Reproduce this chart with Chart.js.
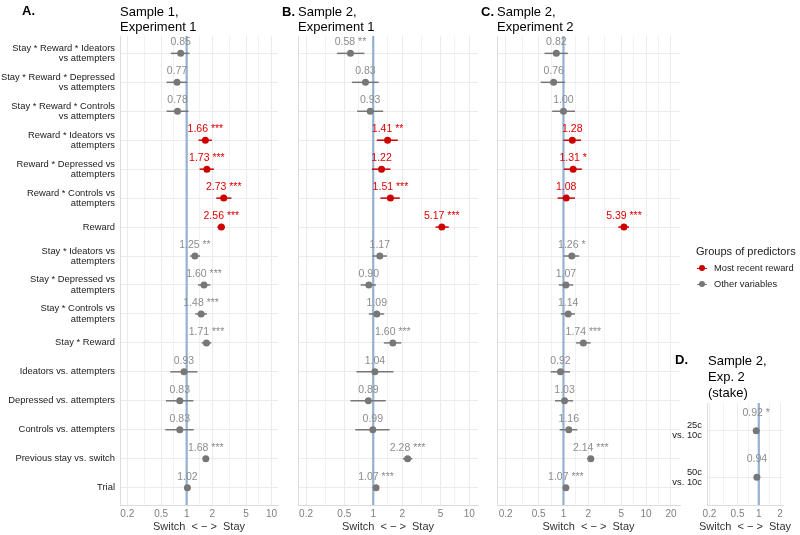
<!DOCTYPE html>
<html>
<head>
<meta charset="utf-8">
<script src="https://cdn.jsdelivr.net/npm/chart.js@4.4.1/dist/chart.umd.min.js"></script>
<style>
  body { margin: 0; background: #fff; font-family: "Liberation Sans", Arial, sans-serif; }
  #wrap { position: relative; width: 800px; height: 535px; overflow: hidden; }
  canvas { position: absolute; left: 0; top: 0; }
  .title { position: absolute; font-size: 13px; line-height: 15px; color: #000; white-space: nowrap; }
  .tag { position: absolute; font-size: 13px; line-height: 15px; font-weight: bold; color: #000; }
  .leg { position: absolute; white-space: nowrap; }
  .legTitle { font-size: 11px; color: #222; }
  .legItem { font-size: 9.3px; color: #222; line-height: 12px; }
  .sym { position: absolute; width: 10px; height: 1.5px; }
  .dot { position: absolute; width: 6px; height: 6px; border-radius: 3px; }
  .axTitle { position: absolute; font-size: 11px; line-height: 13px; color: #333; white-space: pre; text-align: center; }
</style>
</head>
<body>
<div id="wrap">
  <canvas id="panelA" width="800" height="535"></canvas>
  <canvas id="panelB" width="800" height="535"></canvas>
  <canvas id="panelC" width="800" height="535"></canvas>
  <canvas id="panelD" width="800" height="535"></canvas>

  <div class="tag" style="left:22px;top:3px;">A.</div>
  <div class="title" style="left:120px;top:4px;">Sample 1,<br>Experiment 1</div>
  <div class="tag" style="left:282px;top:4px;">B.</div>
  <div class="title" style="left:298px;top:4px;">Sample 2,<br>Experiment 1</div>
  <div class="tag" style="left:481px;top:4px;">C.</div>
  <div class="title" style="left:497px;top:4px;">Sample 2,<br>Experiment 2</div>
  <div class="tag" style="left:675px;top:352px;">D.</div>
  <div class="title" style="left:708px;top:353px;line-height:16px;">Sample 2,<br>Exp. 2<br>(stake)</div>
  <div class="axTitle" style="left:695px;width:100px;top:520px;">Switch  &lt; &minus; &gt;  Stay</div>

  <div class="leg legTitle" style="left:696px;top:245px;">Groups of predictors</div>
  <div class="sym" style="left:697px;top:267.5px;background:#cc0000;"></div>
  <div class="dot" style="left:699px;top:265px;background:#cc0000;"></div>
  <div class="leg legItem" style="left:714px;top:262px;">Most recent reward</div>
  <div class="sym" style="left:697px;top:283.5px;background:#777;"></div>
  <div class="dot" style="left:699px;top:281px;background:#777;"></div>
  <div class="leg legItem" style="left:714px;top:278px;">Other variables</div>
</div>

<script>
// predictors, top to bottom
const predictors = [
  ['Stay * Reward * Ideators', 'vs attempters'],
  ['Stay * Reward * Depressed', 'vs attempters'],
  ['Stay * Reward * Controls', 'vs attempters'],
  ['Reward * Ideators vs', 'attempters'],
  ['Reward * Depressed vs', 'attempters'],
  ['Reward * Controls vs', 'attempters'],
  'Reward',
  ['Stay * Ideators vs', 'attempters'],
  ['Stay * Depressed vs', 'attempters'],
  ['Stay * Controls vs', 'attempters'],
  'Stay * Reward',
  'Ideators vs. attempters',
  'Depressed vs. attempters',
  'Controls vs. attempters',
  'Previous stay vs. switch',
  'Trial'
];
const groups = ['other', 'other', 'other', 'reward', 'reward', 'reward', 'reward', 'other',
                'other', 'other', 'other', 'other', 'other', 'other', 'other', 'other'];

// Sample 1, Experiment 1 (odds ratios, 95% CI)
const s1e1Est = [0.85, 0.77, 0.78, 1.66, 1.73, 2.73, 2.56, 1.25, 1.60, 1.48, 1.71, 0.93, 0.83, 0.83, 1.68, 1.02];
const s1e1Lo  = [0.65, 0.58, 0.58, 1.38, 1.42, 2.23, 2.30, 1.10, 1.36, 1.26, 1.50, 0.64, 0.57, 0.56, 1.62, 1.01];
const s1e1Hi  = [1.08, 1.01, 1.05, 1.98, 2.09, 3.36, 2.82, 1.44, 1.90, 1.73, 1.95, 1.34, 1.20, 1.21, 1.74, 1.03];
const s1e1Sig = ['', '', '', '***', '***', '***', '***', '**', '***', '***', '***', '', '', '', '***', ''];

// Sample 2, Experiment 1
const s2e1Est = [0.58, 0.83, 0.93, 1.41, 1.22, 1.51, 5.17, 1.17, 0.90, 1.09, 1.60, 1.04, 0.89, 0.99, 2.28, 1.07];
const s2e1Lo  = [0.42, 0.60, 0.68, 1.09, 0.97, 1.19, 4.45, 0.98, 0.74, 0.90, 1.29, 0.67, 0.58, 0.65, 2.03, 1.05];
const s2e1Hi  = [0.81, 1.14, 1.27, 1.80, 1.51, 1.89, 6.10, 1.39, 1.07, 1.30, 1.96, 1.62, 1.35, 1.48, 2.55, 1.09];
const s2e1Sig = ['**', '', '', '**', '', '***', '***', '', '', '', '***', '', '', '', '***', '***'];

// Sample 2, Experiment 2
const s2e2Est = [0.82, 0.76, 1.00, 1.28, 1.31, 1.08, 5.39, 1.26, 1.07, 1.14, 1.74, 0.92, 1.03, 1.16, 2.14, 1.07];
const s2e2Lo  = [0.59, 0.53, 0.73, 1.00, 1.01, 0.85, 4.60, 1.01, 0.88, 0.93, 1.42, 0.70, 0.79, 0.90, 1.94, 1.05];
const s2e2Hi  = [1.13, 1.05, 1.38, 1.63, 1.67, 1.38, 6.20, 1.55, 1.31, 1.38, 2.13, 1.20, 1.31, 1.47, 2.35, 1.09];
const s2e2Sig = ['', '', '', '', '*', '', '***', '*', '', '', '***', '', '', '', '***', '***'];

// Sample 2, Exp. 2 (stake)
const stakeLabels = [['25c', 'vs. 10c'], ['50c', 'vs. 10c']];
const stakeGroups = ['other', 'other'];
const stakeEst = [0.92, 0.94];
const stakeLo  = [0.90, 0.92];
const stakeHi  = [0.94, 0.96];
const stakeSig = ['*', ''];

const mainTicks  = [0.2, 0.5, 1, 2, 5, 10];
const wideTicks  = [0.2, 0.5, 1, 2, 5, 10, 20];
const stakeTicks = [0.2, 0.5, 1, 2];

const FONT = '"Liberation Sans", Arial, sans-serif';
Chart.defaults.font.family = FONT;

const colPoint = { reward: '#cc0000', other: '#777777' };
const colText  = { reward: '#e00000', other: '#8c8c8c' };

function makePanel(id, d) {
  const n = d.est.length;
  // minor gridlines halfway (in log space) between major ticks
  const minor = [];
  const t = d.ticks;
  minor.push(t[0] / Math.sqrt(t[1] / t[0]));
  for (let i = 0; i < t.length - 1; i++) minor.push(Math.sqrt(t[i] * t[i + 1]));
  minor.push(t[t.length - 1] * Math.sqrt(t[t.length - 1] / t[t.length - 2]));
  const allTicks = t.concat(minor).filter(v => v >= d.xMin && v <= d.xMax).sort((a, b) => a - b);

  const datasets = [];
  // points
  datasets.push({
    data: d.est.map((v, i) => ({ x: v, y: i + 1 })),
    pointRadius: 3.5,
    pointBorderWidth: 0,
    pointBackgroundColor: d.grp.map(g => colPoint[g]),
    order: 0
  });
  // confidence intervals
  d.est.forEach((v, i) => {
    datasets.push({
      data: [{ x: d.lo[i], y: i + 1 }, { x: d.hi[i], y: i + 1 }],
      showLine: true,
      borderColor: colPoint[d.grp[i]],
      borderWidth: 1.5,
      pointRadius: 0,
      order: 1
    });
  });
  // reference line at 1
  datasets.push({
    data: [{ x: 1, y: 0.4 }, { x: 1, y: n + 0.6 }],
    showLine: true,
    borderColor: '#94b1d2',
    borderWidth: 2.2,
    pointRadius: 0,
    order: 2
  });

  const labelPlugin = {
    id: 'valueLabels',
    afterDatasetsDraw(chart) {
      const ctx = chart.ctx, xs = chart.scales.x, ys = chart.scales.y;
      ctx.save();
      ctx.font = '10.5px ' + FONT;
      ctx.textAlign = 'center';
      ctx.textBaseline = 'middle';
      d.est.forEach((v, i) => {
        const txt = v.toFixed(2) + (d.sig[i] ? ' ' + d.sig[i] : '');
        ctx.fillStyle = colText[d.grp[i]];
        ctx.fillText(txt, xs.getPixelForValue(v), ys.getPixelForValue(i + 1 - 0.38));
      });
      ctx.restore();
    }
  };

  new Chart(document.getElementById(id), {
    type: 'scatter',
    data: { datasets },
    plugins: [labelPlugin],
    options: {
      responsive: false,
      animation: false,
      events: [],
      layout: {
        padding: {
          left: d.area.left - d.yWidth,
          right: 800 - d.area.right,
          top: d.area.top,
          bottom: 535 - d.area.bottom - 30
        }
      },
      plugins: { legend: { display: false }, tooltip: { enabled: false } },
      scales: {
        x: {
          type: 'logarithmic',
          min: d.xMin,
          max: d.xMax,
          bounds: 'data',
          afterBuildTicks: s => { s.ticks = allTicks.map(v => ({ value: v })); },
          afterFit: s => { s.height = 30; },
          ticks: {
            autoSkip: false,
            maxRotation: 0,
            callback: v => (t.includes(v) ? String(v) : ''),
            font: { size: 10 },
            color: '#7f7f7f',
            padding: 3
          },
          grid: {
            drawTicks: false,
            color: '#ebebeb',
            lineWidth: c => (c.tick && t.includes(c.tick.value) ? 1 : 0.7)
          },
          border: { display: true, color: '#dcdcdc' },
          title: {
            display: d.axisTitle,
            text: 'Switch  < \u2212 >  Stay',
            font: { size: 11 },
            color: '#333',
            padding: { top: 0, bottom: 1 }
          }
        },
        y: {
          type: 'linear',
          min: 0.4,
          max: n + 0.6,
          reverse: true,
          afterBuildTicks: s => { s.ticks = d.est.map((_, i) => ({ value: i + 1 })); },
          afterFit: s => { s.width = d.yWidth; },
          ticks: {
            display: !!d.labels,
            autoSkip: false,
            callback: (v, i) => (d.labels ? d.labels[i] : ''),
            font: { size: 9.4, lineHeight: 1.08 },
            color: '#1a1a1a',
            padding: 5
          },
          grid: { drawTicks: false, color: '#ebebeb', lineWidth: 1 },
          border: { display: true, color: '#dcdcdc' }
        }
      }
    }
  });
}

makePanel('panelA', {
  labels: predictors, grp: groups, est: s1e1Est, lo: s1e1Lo, hi: s1e1Hi, sig: s1e1Sig,
  ticks: mainTicks, xMin: 0.164, xMax: 11.9, yWidth: 120, axisTitle: true,
  area: { left: 120, right: 278, top: 36, bottom: 505 }
});
makePanel('panelB', {
  labels: null, grp: groups, est: s2e1Est, lo: s2e1Lo, hi: s2e1Hi, sig: s2e1Sig,
  ticks: mainTicks, xMin: 0.165, xMax: 12.3, yWidth: 0, axisTitle: true,
  area: { left: 298, right: 478, top: 36, bottom: 505 }
});
makePanel('panelC', {
  labels: null, grp: groups, est: s2e2Est, lo: s2e2Lo, hi: s2e2Hi, sig: s2e2Sig,
  ticks: wideTicks, xMin: 0.157, xMax: 25.7, yWidth: 0, axisTitle: true,
  area: { left: 497, right: 680, top: 36, bottom: 505 }
});
makePanel('panelD', {
  labels: stakeLabels, grp: stakeGroups, est: stakeEst, lo: stakeLo, hi: stakeHi, sig: stakeSig,
  ticks: stakeTicks, xMin: 0.185, xMax: 2.2, yWidth: 40, axisTitle: false,
  area: { left: 707, right: 783, top: 403, bottom: 505 }
});
</script>
</body>
</html>
